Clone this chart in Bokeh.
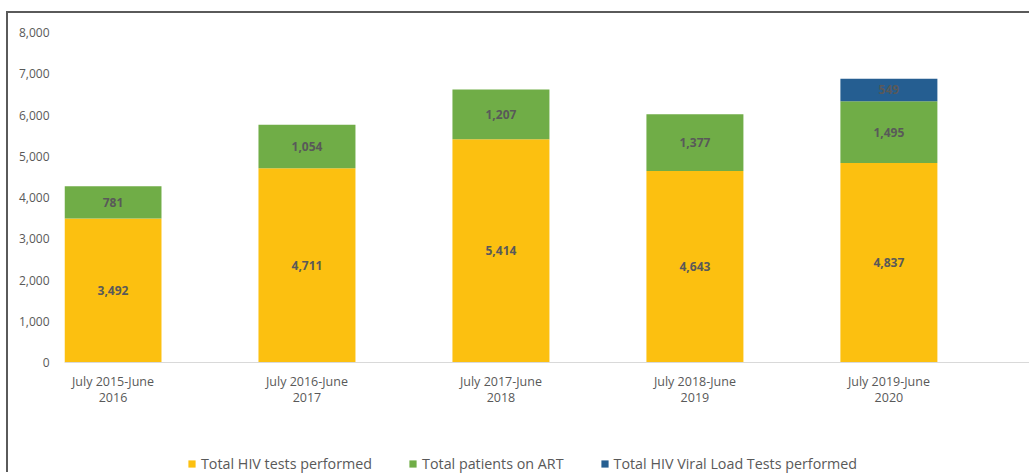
from bokeh.plotting import figure
from bokeh.models import (ColumnDataSource, FixedTicker, NumeralTickFormatter,
                          Legend, LegendItem, Range1d)
from bokeh.embed import file_html
from bokeh.resources import INLINE
from bokeh.core.properties import value

categories = ["July 2015-June\n2016", "July 2016-June\n2017", "July 2017-June\n2018",
              "July 2018-June\n2019", "July 2019-June\n2020"]
hiv_tests = [3492, 4711, 5414, 4643, 4837]
art_patients = [781, 1054, 1207, 1377, 1495]
viral_load = [0, 0, 0, 0, 549]
series_names = ["Total HIV tests performed", "Total patients on ART",
                "Total HIV Viral Load Tests performed"]
colors = ["#FCC010", "#70AD47", "#255E91"]
y_ticks = [0, 1000, 2000, 3000, 4000, 5000, 6000, 7000, 8000]

FONT = "Open Sans"
GRAY = "#595959"

xs = list(range(len(categories)))
src = ColumnDataSource(dict(x=xs, hiv=hiv_tests, art=art_patients, vl=viral_load))

p = figure(width=1023, height=461, output_backend="svg", toolbar_location=None,
           x_range=Range1d(-0.25, 4.73), y_range=Range1d(-2715, 8000),
           min_border_left=56, min_border_right=1, min_border_top=19,
           min_border_bottom=0,
           styles={"margin-left": "6px", "margin-top": "11px",
                   "border-top": "2px solid #5a5a5a", "border-left": "2px solid #5a5a5a"})
p.outline_line_color = None
p.xgrid.visible = False
p.ygrid.visible = False
p.background_fill_color = "white"
p.border_fill_color = "white"

renderers = p.vbar_stack(["hiv", "art", "vl"], x="x", width=0.5, color=colors,
                         line_color=None, source=src)

# data labels
lx, ly, lt = [], [], []
for i in xs:
    base = 0
    for vals in (hiv_tests, art_patients, viral_load):
        v = vals[i]
        if v > 0:
            lx.append(i)
            ly.append(base + v / 2)
            lt.append(f"{v:,}")
        base += v
p.text(x=lx, y=ly, text=lt, text_align="center", text_baseline="middle",
       text_font=value(FONT), text_font_style="bold", text_font_size="12px",
       text_color=GRAY)

# category labels under the axis line (tight two-line spacing)
p.text(x=xs, y=[0] * len(xs), text=categories, text_align="center",
       text_baseline="middle", y_offset=27, text_line_height=0.98,
       text_font=value(FONT), text_font_size="12.5px", text_color=GRAY)

# axes
xa = p.xaxis[0]
xa.fixed_location = 0
xa.ticker = FixedTicker(ticks=[])
xa.axis_line_color = "#d9d9d9"
xa.major_tick_line_color = None
xa.minor_tick_line_color = None

ya = p.yaxis[0]
ya.ticker = FixedTicker(ticks=y_ticks)
ya.formatter = NumeralTickFormatter(format="0,0")
ya.axis_line_color = None
ya.major_tick_line_color = None
ya.minor_tick_line_color = None
ya.major_label_text_font = FONT
ya.major_label_text_font_size = "12px"
ya.major_label_text_color = GRAY
ya.major_label_standoff = 9

legend = Legend(items=[LegendItem(label=n, renderers=[r]) for n, r in zip(series_names, renderers)],
                orientation="horizontal", location=(123, 1),
                glyph_width=9, glyph_height=9, label_standoff=5, spacing=36,
                padding=0, margin=0, border_line_color=None,
                background_fill_alpha=0,
                label_text_font=FONT, label_text_font_size="14.3px",
                label_text_color=GRAY, label_height=16)
p.add_layout(legend, "center")

open("out.html", "w").write(file_html(p, INLINE))
